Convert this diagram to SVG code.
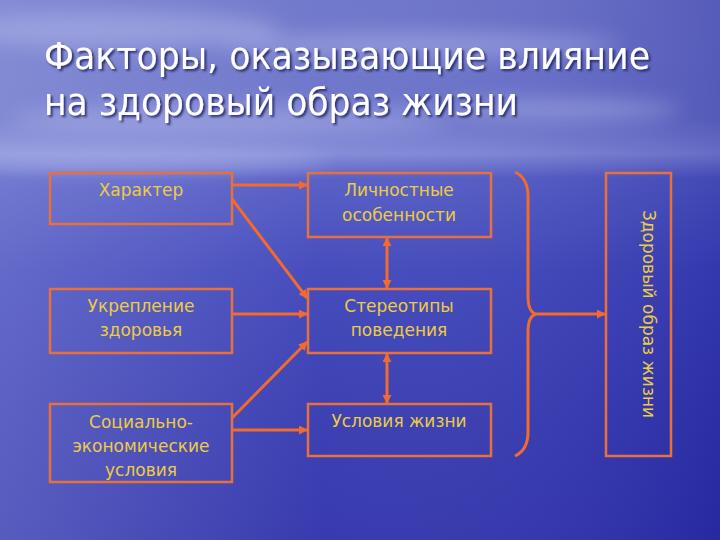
<svg xmlns="http://www.w3.org/2000/svg" width="720" height="540" viewBox="0 0 720 540">
  <defs>
    <linearGradient id="bgV" x1="0" y1="0" x2="0" y2="1">
      <stop offset="0" stop-color="#6a72c8"/>
      <stop offset="0.22" stop-color="#6870c8"/>
      <stop offset="0.285" stop-color="#8088d6"/>
      <stop offset="0.33" stop-color="#5058c2"/>
      <stop offset="0.5" stop-color="#3c42b8"/>
      <stop offset="0.75" stop-color="#3236ae"/>
      <stop offset="1" stop-color="#2c2ea8"/>
    </linearGradient>
    <linearGradient id="bgH" x1="0" y1="0" x2="1" y2="0">
      <stop offset="0" stop-color="#c0c6f0" stop-opacity="0.3"/>
      <stop offset="0.45" stop-color="#c0c6f0" stop-opacity="0.08"/>
      <stop offset="1" stop-color="#18188c" stop-opacity="0.25"/>
    </linearGradient>
    <filter id="blur" x="-20%" y="-50%" width="140%" height="200%">
      <feGaussianBlur stdDeviation="10"/>
    </filter>
    <filter id="shadow" x="-5%" y="-20%" width="110%" height="150%">
      <feDropShadow dx="2" dy="2" stdDeviation="0.8" flood-color="#1c1c60" flood-opacity="0.85"/>
    </filter>
    <marker id="ah" viewBox="0 0 10 10" refX="9" refY="5" markerWidth="3" markerHeight="3" orient="auto-start-reverse" markerUnits="strokeWidth">
      <path d="M0,0 L10,5 L0,10 z" fill="#f26a2e"/>
    </marker>
    <style>
      .box { fill: none; stroke: #e8703c; stroke-width: 2.5; }
      .lbl { font-family: "DejaVu Sans", "Liberation Sans", sans-serif; font-size: 17px; fill: #eccc44; text-anchor: middle; }
      .title { font-family: "DejaVu Sans", "Liberation Sans", sans-serif; font-size: 38px; fill: #ffffff; filter: url(#shadow); }
      .con { stroke: #f26a2e; stroke-width: 3; fill: none; }
      .arr { marker-end: url(#ah); }
      .both { marker-start: url(#ah); marker-end: url(#ah); }
    </style>
  </defs>

  <!-- background -->
  <rect x="0" y="0" width="720" height="540" fill="url(#bgV)"/>
  <rect x="0" y="0" width="720" height="540" fill="url(#bgH)"/>
  <g filter="url(#blur)" fill="#b4b9ea" opacity="0.5">
    <ellipse cx="120" cy="30" rx="160" ry="18"/>
    <ellipse cx="420" cy="45" rx="200" ry="12"/>
    <ellipse cx="230" cy="120" rx="220" ry="14"/>
    <ellipse cx="150" cy="160" rx="180" ry="10"/>
    <ellipse cx="560" cy="110" rx="120" ry="10"/>
  </g>

  <!-- title -->
  <text class="title" x="44" y="69" textLength="606" lengthAdjust="spacingAndGlyphs">Факторы, оказывающие влияние</text>
  <text class="title" x="44" y="115" textLength="474" lengthAdjust="spacingAndGlyphs">на здоровый образ жизни</text>

  <!-- connectors -->
  <g id="connectors">
    <line class="con arr" x1="232" y1="185" x2="307" y2="185"/>
    <line class="con arr" x1="232" y1="199" x2="307" y2="298"/>
    <line class="con arr" x1="232" y1="314" x2="307" y2="314"/>
    <line class="con arr" x1="232" y1="418" x2="307" y2="342"/>
    <line class="con arr" x1="232" y1="430" x2="307" y2="430"/>
    <line class="con both" x1="387" y1="238" x2="387" y2="288"/>
    <line class="con both" x1="387" y1="354" x2="387" y2="403"/>
    <path class="con" d="M515,172 Q528,178 528,196 L528,296 Q528,312 536,314 Q528,316 528,332 L528,432 Q528,450 515,456"/>
    <line class="con arr" x1="536" y1="314" x2="605" y2="314"/>
  </g>

  <!-- nodes -->
  <g id="n-harakter">
    <rect class="box" x="50" y="173" width="182" height="51"/>
    <text class="lbl" x="141" y="196">Характер</text>
  </g>
  <g id="n-lichnostnye">
    <rect class="box" x="308" y="173" width="183" height="64"/>
    <text class="lbl" x="399" y="196">Личностные</text>
    <text class="lbl" x="399" y="221">особенности</text>
  </g>
  <g id="n-ukreplenie">
    <rect class="box" x="50" y="289" width="182" height="64"/>
    <text class="lbl" x="141" y="312">Укрепление</text>
    <text class="lbl" x="141" y="336">здоровья</text>
  </g>
  <g id="n-stereotipy">
    <rect class="box" x="308" y="289" width="183" height="64"/>
    <text class="lbl" x="399" y="312">Стереотипы</text>
    <text class="lbl" x="399" y="336">поведения</text>
  </g>
  <g id="n-socialno">
    <rect class="box" x="50" y="404" width="182" height="78"/>
    <text class="lbl" x="141" y="428">Социально-</text>
    <text class="lbl" x="141" y="452">экономические</text>
    <text class="lbl" x="141" y="476">условия</text>
  </g>
  <g id="n-usloviya">
    <rect class="box" x="308" y="404" width="183" height="52"/>
    <text class="lbl" x="399" y="427">Условия жизни</text>
  </g>
  <g id="n-zoj">
    <rect class="box" x="606" y="173" width="65" height="283"/>
    <text class="lbl" x="0" y="0" transform="translate(643,314) rotate(90)">Здоровый образ жизни</text>
  </g>
</svg>
